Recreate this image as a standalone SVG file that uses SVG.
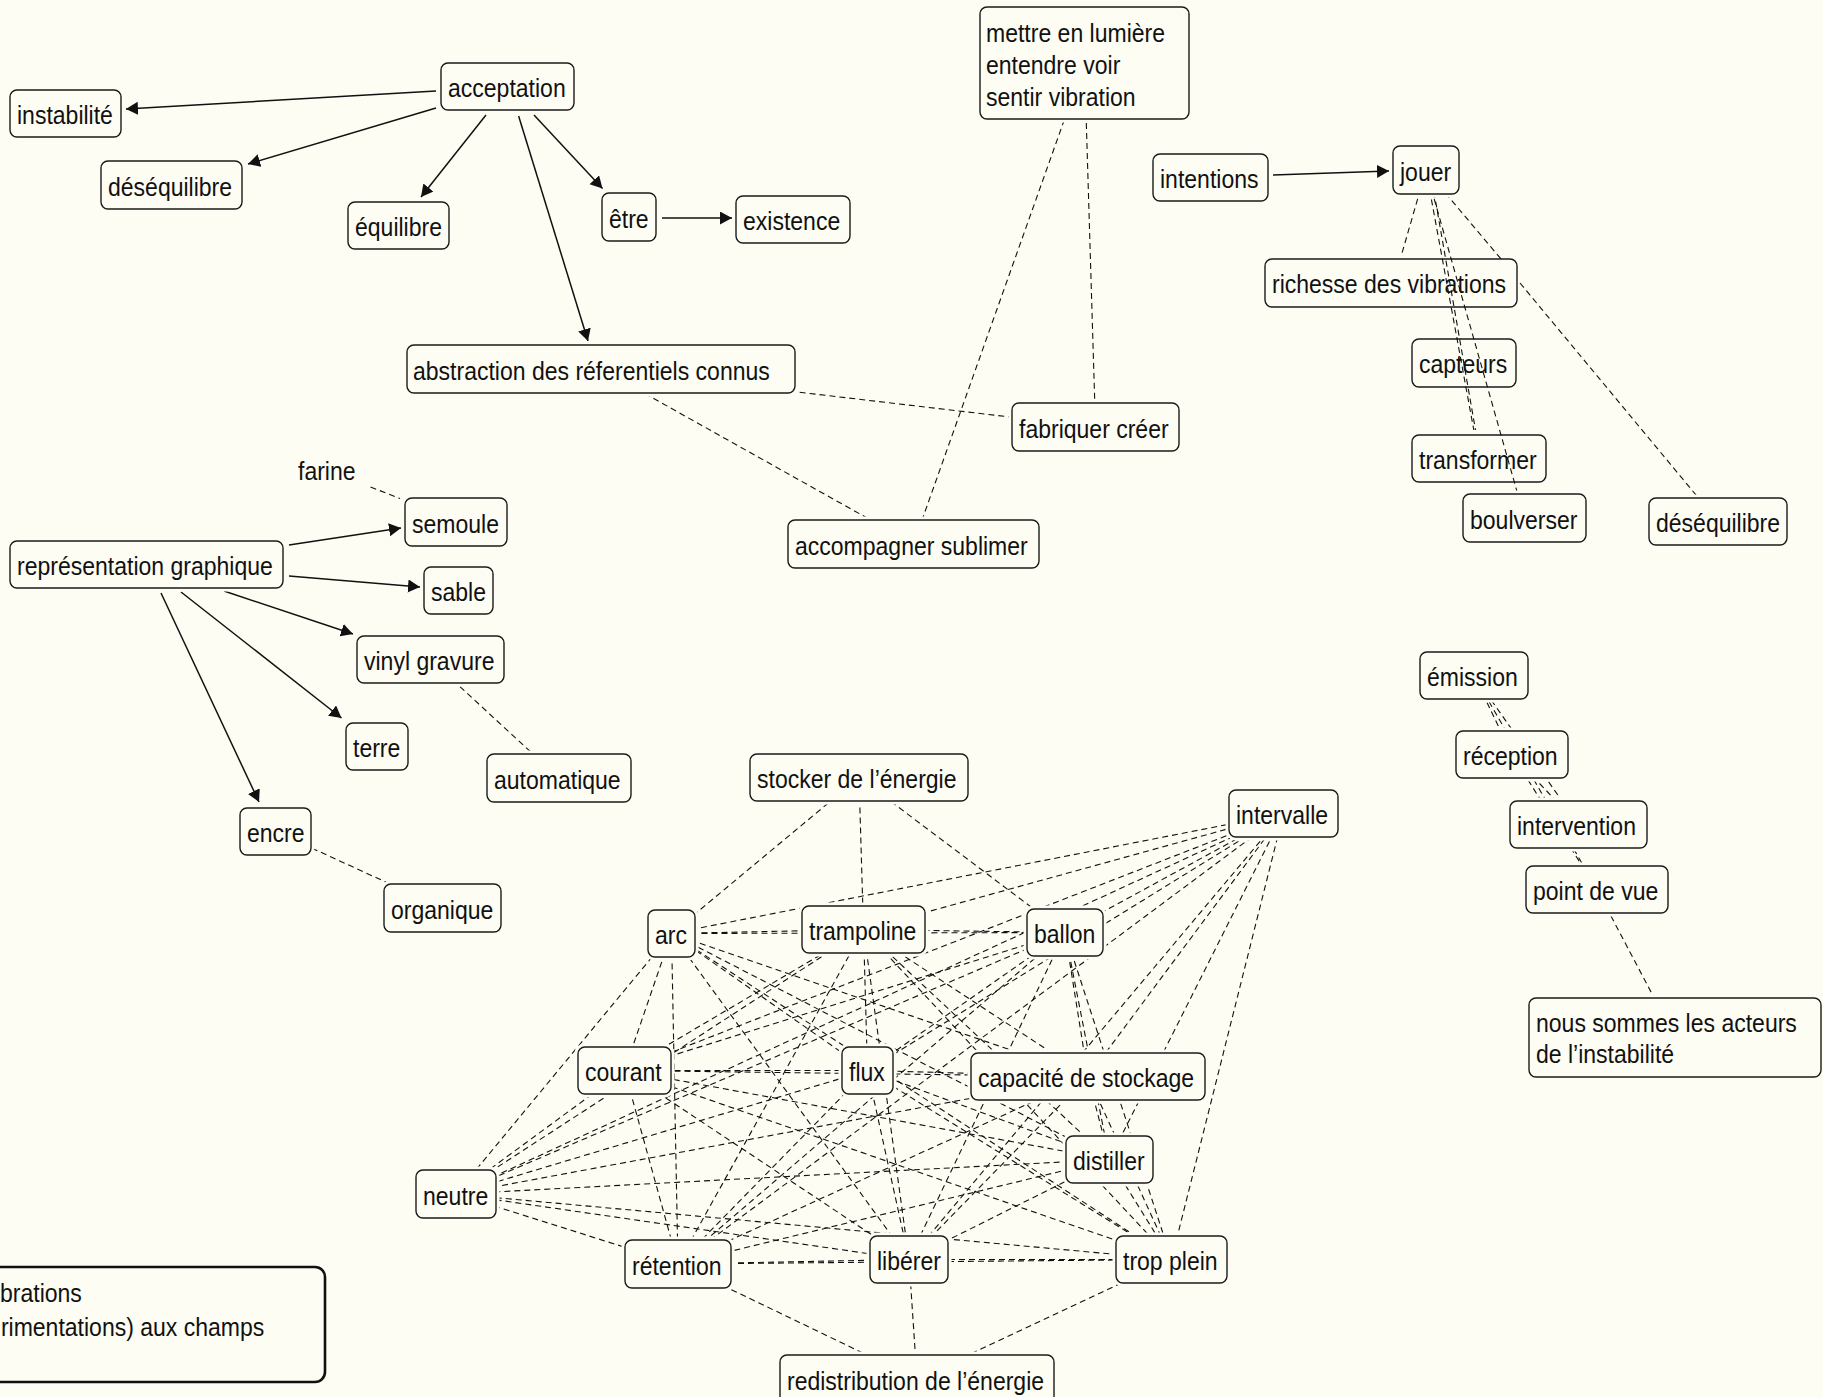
<svg xmlns="http://www.w3.org/2000/svg" width="1823" height="1397" viewBox="0 0 1823 1397">
<defs>
<style>
.bg{fill:#fdfdf4}
.h{fill:#fdfdf4}
.b{fill:#fdfdf4;stroke:#1a1a1a;stroke-width:1.4}
.t{font-family:"Liberation Sans",Arial,sans-serif;font-size:26px;fill:#111}
.d{stroke:#111;stroke-width:1.1;stroke-dasharray:6 4;fill:none}
.a{stroke:#111;stroke-width:1.5;fill:none;marker-end:url(#arr)}
</style>
<marker id="arr" markerUnits="userSpaceOnUse" markerWidth="14" markerHeight="14" refX="12" refY="6.5" orient="auto" viewBox="0 0 14 14"><path d="M0,0 L12,6.5 L0,13 z" fill="#111"/></marker>
</defs>
<rect class="bg" x="0" y="0" width="1823" height="1397"/>

<!-- nodes drawn beneath connectors -->
<g id="n-richesse"><rect class="b" x="1265" y="259" width="252" height="48" rx="7"/><text class="t" transform="translate(1272 293) scale(.885 1)">richesse des vibrations</text></g>
<g id="n-capteurs"><rect class="b" x="1412" y="339" width="104" height="48" rx="7"/><text class="t" transform="translate(1419 373) scale(.885 1)">capteurs</text></g>
<g id="n-transformer"><rect class="b" x="1412" y="435" width="134" height="47" rx="7"/><text class="t" transform="translate(1419 469) scale(.885 1)">transformer</text></g>

<g id="connectors">
<!-- arrows -->
<line class="a" x1="436" y1="91" x2="126" y2="109"/>
<line class="a" x1="436" y1="108" x2="248" y2="164"/>
<line class="a" x1="486" y1="115" x2="421" y2="197"/>
<line class="a" x1="534" y1="115" x2="602.5" y2="188.5"/>
<line class="a" x1="518.6" y1="116" x2="588" y2="341"/>
<line class="a" x1="662" y1="218" x2="732" y2="218"/>
<line class="a" x1="1273" y1="175" x2="1389" y2="171"/>
<line class="a" x1="289" y1="545" x2="401" y2="528"/>
<line class="a" x1="289" y1="576" x2="420" y2="587"/>
<line class="a" x1="224" y1="591" x2="353" y2="634"/>
<line class="a" x1="181" y1="592" x2="341.5" y2="718"/>
<line class="a" x1="161" y1="593" x2="259" y2="802"/>
<!-- top dashed -->
<line class="d" x1="1084.5" y1="63" x2="913.5" y2="544"/>
<line class="d" x1="1084.5" y1="63" x2="1095.5" y2="427"/>
<line class="d" x1="601" y1="369" x2="1095.5" y2="427"/>
<line class="d" x1="601" y1="369" x2="913.5" y2="544"/>
<line class="d" x1="1426" y1="170" x2="1401.6" y2="254.5"/>
<path class="d" d="M1426,170 L1501,259 M1520,283 L1718,521.5"/>
<line class="d" x1="1426" y1="170" x2="1473.8" y2="430"/>
<line class="d" x1="1430.5" y1="172" x2="1475.5" y2="430"/>
<line class="d" x1="1426" y1="170" x2="1524.5" y2="518"/>
<!-- left dashed -->
<line class="d" x1="370.5" y1="487" x2="400" y2="498.5"/>
<line class="d" x1="430.5" y1="659.5" x2="559" y2="778"/>
<line class="d" x1="275.5" y1="831.5" x2="442.5" y2="908"/>
<!-- right chain -->
<line class="d" x1="1474" y1="675.5" x2="1512" y2="754.5"/>
<line class="d" x1="1474" y1="675.5" x2="1578.5" y2="824.5"/>
<line class="d" x1="1474" y1="675.5" x2="1597" y2="889.5"/>
<line class="d" x1="1512" y1="754.5" x2="1578.5" y2="824.5"/>
<line class="d" x1="1512" y1="754.5" x2="1597" y2="889.5"/>
<line class="d" x1="1597" y1="889.5" x2="1675" y2="1037.5"/>
<!-- cluster: stocker and redistribution -->
<line class="d" x1="859" y1="777.5" x2="671.5" y2="933.5"/>
<line class="d" x1="859" y1="777.5" x2="863.5" y2="929.5"/>
<line class="d" x1="859" y1="777.5" x2="1065" y2="932.5"/>
<line class="d" x1="917" y1="1379" x2="678" y2="1264"/>
<line class="d" x1="917" y1="1379" x2="909" y2="1259.5"/>
<line class="d" x1="917" y1="1379" x2="1171.5" y2="1259.5"/>
<!-- arc -->
<line class="d" x1="671.5" y1="933.5" x2="863.5" y2="929.5"/>
<line class="d" x1="671.5" y1="933.5" x2="1065" y2="932.5"/>
<line class="d" x1="671.5" y1="933.5" x2="624.5" y2="1070.5"/>
<line class="d" x1="671.5" y1="933.5" x2="867.5" y2="1070.5"/>
<line class="d" x1="671.5" y1="933.5" x2="1088" y2="1076.5"/>
<line class="d" x1="671.5" y1="933.5" x2="1109.5" y2="1159.5"/>
<line class="d" x1="671.5" y1="933.5" x2="456" y2="1194"/>
<line class="d" x1="671.5" y1="933.5" x2="678" y2="1264"/>
<line class="d" x1="671.5" y1="933.5" x2="909" y2="1259.5"/>
<line class="d" x1="671.5" y1="933.5" x2="1171.5" y2="1259.5"/>
<line class="d" x1="671.5" y1="933.5" x2="1283.5" y2="813.5"/>
<!-- trampoline -->
<line class="d" x1="863.5" y1="929.5" x2="1065" y2="932.5"/>
<line class="d" x1="863.5" y1="929.5" x2="624.5" y2="1070.5"/>
<line class="d" x1="863.5" y1="929.5" x2="867.5" y2="1070.5"/>
<line class="d" x1="863.5" y1="929.5" x2="1088" y2="1076.5"/>
<line class="d" x1="863.5" y1="929.5" x2="1109.5" y2="1159.5"/>
<line class="d" x1="863.5" y1="929.5" x2="456" y2="1194"/>
<line class="d" x1="863.5" y1="929.5" x2="678" y2="1264"/>
<line class="d" x1="863.5" y1="929.5" x2="909" y2="1259.5"/>
<line class="d" x1="863.5" y1="929.5" x2="1171.5" y2="1259.5"/>
<line class="d" x1="863.5" y1="929.5" x2="1283.5" y2="813.5"/>
<!-- ballon -->
<line class="d" x1="1065" y1="932.5" x2="624.5" y2="1070.5"/>
<line class="d" x1="1065" y1="932.5" x2="867.5" y2="1070.5"/>
<line class="d" x1="1065" y1="932.5" x2="1088" y2="1076.5"/>
<line class="d" x1="1065" y1="932.5" x2="1109.5" y2="1159.5"/>
<line class="d" x1="1065" y1="932.5" x2="456" y2="1194"/>
<line class="d" x1="1065" y1="932.5" x2="678" y2="1264"/>
<line class="d" x1="1065" y1="932.5" x2="909" y2="1259.5"/>
<line class="d" x1="1065" y1="932.5" x2="1171.5" y2="1259.5"/>
<line class="d" x1="1065" y1="932.5" x2="1283.5" y2="813.5"/>
<!-- courant -->
<line class="d" x1="624.5" y1="1070.5" x2="867.5" y2="1070.5"/>
<line class="d" x1="624.5" y1="1070.5" x2="1088" y2="1076.5"/>
<line class="d" x1="624.5" y1="1070.5" x2="1109.5" y2="1159.5"/>
<line class="d" x1="624.5" y1="1070.5" x2="456" y2="1194"/>
<line class="d" x1="624.5" y1="1070.5" x2="678" y2="1264"/>
<line class="d" x1="624.5" y1="1070.5" x2="909" y2="1259.5"/>
<line class="d" x1="624.5" y1="1070.5" x2="1171.5" y2="1259.5"/>
<line class="d" x1="624.5" y1="1070.5" x2="1283.5" y2="813.5"/>
<!-- flux -->
<line class="d" x1="867.5" y1="1070.5" x2="1088" y2="1076.5"/>
<line class="d" x1="867.5" y1="1070.5" x2="1109.5" y2="1159.5"/>
<line class="d" x1="867.5" y1="1070.5" x2="456" y2="1194"/>
<line class="d" x1="867.5" y1="1070.5" x2="678" y2="1264"/>
<line class="d" x1="867.5" y1="1070.5" x2="909" y2="1259.5"/>
<line class="d" x1="867.5" y1="1070.5" x2="1171.5" y2="1259.5"/>
<line class="d" x1="867.5" y1="1070.5" x2="1283.5" y2="813.5"/>
<!-- capacite -->
<line class="d" x1="1088" y1="1076.5" x2="1109.5" y2="1159.5"/>
<line class="d" x1="1088" y1="1076.5" x2="456" y2="1194"/>
<line class="d" x1="1088" y1="1076.5" x2="678" y2="1264"/>
<line class="d" x1="1088" y1="1076.5" x2="909" y2="1259.5"/>
<line class="d" x1="1088" y1="1076.5" x2="1171.5" y2="1259.5"/>
<line class="d" x1="1088" y1="1076.5" x2="1283.5" y2="813.5"/>
<!-- distiller -->
<line class="d" x1="1109.5" y1="1159.5" x2="456" y2="1194"/>
<line class="d" x1="1109.5" y1="1159.5" x2="678" y2="1264"/>
<line class="d" x1="1109.5" y1="1159.5" x2="909" y2="1259.5"/>
<line class="d" x1="1109.5" y1="1159.5" x2="1171.5" y2="1259.5"/>
<line class="d" x1="1109.5" y1="1159.5" x2="1283.5" y2="813.5"/>
<!-- neutre -->
<line class="d" x1="456" y1="1194" x2="678" y2="1264"/>
<line class="d" x1="456" y1="1194" x2="909" y2="1259.5"/>
<line class="d" x1="456" y1="1194" x2="1171.5" y2="1259.5"/>
<line class="d" x1="456" y1="1194" x2="1283.5" y2="813.5"/>
<!-- retention, liberer, trop plein -->
<line class="d" x1="678" y1="1264" x2="909" y2="1259.5"/>
<line class="d" x1="678" y1="1264" x2="1171.5" y2="1259.5"/>
<line class="d" x1="678" y1="1264" x2="1283.5" y2="813.5"/>
<line class="d" x1="909" y1="1259.5" x2="1171.5" y2="1259.5"/>
<line class="d" x1="909" y1="1259.5" x2="1283.5" y2="813.5"/>
<line class="d" x1="1171.5" y1="1259.5" x2="1283.5" y2="813.5"/>
</g>

<!-- nodes drawn above connectors -->
<g id="n-acceptation"><rect class="h" x="437.5" y="59.5" width="140" height="54" rx="10"/><rect class="b" x="441" y="63" width="133" height="47" rx="7"/><text class="t" transform="translate(448 97) scale(.885 1)">acceptation</text></g>
<g id="n-instabilite"><rect class="h" x="6.5" y="86.5" width="118" height="54" rx="10"/><rect class="b" x="10" y="90" width="111" height="47" rx="7"/><text class="t" transform="translate(17 124) scale(.885 1)">instabilité</text></g>
<g id="n-desequilibre1"><rect class="h" x="97.5" y="157.5" width="148" height="55" rx="10"/><rect class="b" x="101" y="161" width="141" height="48" rx="7"/><text class="t" transform="translate(108 195.5) scale(.885 1)">déséquilibre</text></g>
<g id="n-equilibre"><rect class="h" x="344.5" y="198.5" width="108" height="54" rx="10"/><rect class="b" x="348" y="202" width="101" height="47" rx="7"/><text class="t" transform="translate(355 236) scale(.885 1)">équilibre</text></g>
<g id="n-etre"><rect class="h" x="598.5" y="189.5" width="61" height="55" rx="10"/><rect class="b" x="602" y="193" width="54" height="48" rx="7"/><text class="t" transform="translate(609 227.5) scale(.885 1)">être</text></g>
<g id="n-existence"><rect class="h" x="732.5" y="192.5" width="121" height="54" rx="10"/><rect class="b" x="736" y="196" width="114" height="47" rx="7"/><text class="t" transform="translate(743 230) scale(.885 1)">existence</text></g>
<g id="n-abstraction"><rect class="h" x="403.5" y="341.5" width="395" height="55" rx="10"/><rect class="b" x="407" y="345" width="388" height="48" rx="7"/><text class="t" transform="translate(413 379.5) scale(.885 1)">abstraction des réferentiels connus</text></g>
<g id="n-mettre"><rect class="h" x="976.5" y="3.5" width="216" height="119" rx="10"/><rect class="b" x="980" y="7" width="209" height="112" rx="7"/><text class="t" transform="translate(986 41.5) scale(.885 1)"><tspan x="0" y="0">mettre en lumière</tspan><tspan x="0" y="32.5">entendre voir</tspan><tspan x="0" y="65">sentir vibration</tspan></text></g>
<g id="n-fabriquer"><rect class="h" x="1008.5" y="399.5" width="174" height="55" rx="10"/><rect class="b" x="1012" y="403" width="167" height="48" rx="7"/><text class="t" transform="translate(1019 437.5) scale(.885 1)">fabriquer créer</text></g>
<g id="n-accompagner"><rect class="h" x="784.5" y="516.5" width="258" height="55" rx="10"/><rect class="b" x="788" y="520" width="251" height="48" rx="7"/><text class="t" transform="translate(795 554.5) scale(.885 1)">accompagner sublimer</text></g>
<g id="n-intentions"><rect class="h" x="1149.5" y="150.5" width="122" height="54" rx="10"/><rect class="b" x="1153" y="154" width="115" height="47" rx="7"/><text class="t" transform="translate(1160 188) scale(.885 1)">intentions</text></g>
<g id="n-jouer"><rect class="h" x="1389.5" y="142.5" width="73" height="55" rx="10"/><rect class="b" x="1393" y="146" width="66" height="48" rx="7"/><text class="t" transform="translate(1400 180.5) scale(.885 1)">jouer</text></g>
<g id="n-boulverser"><rect class="h" x="1459.5" y="490.5" width="130" height="55" rx="10"/><rect class="b" x="1463" y="494" width="123" height="48" rx="7"/><text class="t" transform="translate(1470 528.5) scale(.885 1)">boulverser</text></g>
<g id="n-desequilibre2"><rect class="h" x="1645.5" y="494.5" width="145" height="54" rx="10"/><rect class="b" x="1649" y="498" width="138" height="47" rx="7"/><text class="t" transform="translate(1656 532) scale(.885 1)">déséquilibre</text></g>

<g id="n-farine"><text class="t" transform="translate(298 480) scale(.885 1)">farine</text></g>
<g id="n-semoule"><rect class="h" x="401.5" y="494.5" width="109" height="55" rx="10"/><rect class="b" x="405" y="498" width="102" height="48" rx="7"/><text class="t" transform="translate(412 532.5) scale(.885 1)">semoule</text></g>
<g id="n-representation"><rect class="h" x="6.5" y="537.5" width="280" height="54" rx="10"/><rect class="b" x="10" y="541" width="273" height="47" rx="7"/><text class="t" transform="translate(17 575) scale(.885 1)">représentation graphique</text></g>
<g id="n-sable"><rect class="h" x="420.5" y="563.5" width="76" height="54" rx="10"/><rect class="b" x="424" y="567" width="69" height="47" rx="7"/><text class="t" transform="translate(431 601) scale(.885 1)">sable</text></g>
<g id="n-vinyl"><rect class="h" x="353.5" y="632.5" width="154" height="54" rx="10"/><rect class="b" x="357" y="636" width="147" height="47" rx="7"/><text class="t" transform="translate(364 670) scale(.885 1)">vinyl gravure</text></g>
<g id="n-terre"><rect class="h" x="342.5" y="719.5" width="69" height="54" rx="10"/><rect class="b" x="346" y="723" width="62" height="47" rx="7"/><text class="t" transform="translate(353 757) scale(.885 1)">terre</text></g>
<g id="n-automatique"><rect class="h" x="483.5" y="750.5" width="151" height="55" rx="10"/><rect class="b" x="487" y="754" width="144" height="48" rx="7"/><text class="t" transform="translate(494 788.5) scale(.885 1)">automatique</text></g>
<g id="n-encre"><rect class="h" x="236.5" y="804.5" width="78" height="54" rx="10"/><rect class="b" x="240" y="808" width="71" height="47" rx="7"/><text class="t" transform="translate(247 842) scale(.885 1)">encre</text></g>
<g id="n-organique"><rect class="h" x="380.5" y="880.5" width="124" height="55" rx="10"/><rect class="b" x="384" y="884" width="117" height="48" rx="7"/><text class="t" transform="translate(391 918.5) scale(.885 1)">organique</text></g>

<g id="n-stocker"><rect class="h" x="746.5" y="750.5" width="225" height="54" rx="10"/><rect class="b" x="750" y="754" width="218" height="47" rx="7"/><text class="t" transform="translate(757 788) scale(.885 1)">stocker de l’énergie</text></g>
<g id="n-intervalle"><rect class="h" x="1225.5" y="786.5" width="116" height="54" rx="10"/><rect class="b" x="1229" y="790" width="109" height="47" rx="7"/><text class="t" transform="translate(1236 824) scale(.885 1)">intervalle</text></g>
<g id="n-arc"><rect class="h" x="644.5" y="906.5" width="54" height="54" rx="10"/><rect class="b" x="648" y="910" width="47" height="47" rx="7"/><text class="t" transform="translate(655 944) scale(.885 1)">arc</text></g>
<g id="n-trampoline"><rect class="h" x="798.5" y="902.5" width="130" height="54" rx="10"/><rect class="b" x="802" y="906" width="123" height="47" rx="7"/><text class="t" transform="translate(809 940) scale(.885 1)">trampoline</text></g>
<g id="n-ballon"><rect class="h" x="1023.5" y="905.5" width="83" height="54" rx="10"/><rect class="b" x="1027" y="909" width="76" height="47" rx="7"/><text class="t" transform="translate(1034 943) scale(.885 1)">ballon</text></g>
<g id="n-courant"><rect class="h" x="574.5" y="1043.5" width="100" height="54" rx="10"/><rect class="b" x="578" y="1047" width="93" height="47" rx="7"/><text class="t" transform="translate(585 1081) scale(.885 1)">courant</text></g>
<g id="n-flux"><rect class="h" x="838.5" y="1043.5" width="58" height="54" rx="10"/><rect class="b" x="842" y="1047" width="51" height="47" rx="7"/><text class="t" transform="translate(849 1081) scale(.885 1)">flux</text></g>
<g id="n-capacite"><rect class="h" x="967.5" y="1049.5" width="241" height="54" rx="10"/><rect class="b" x="971" y="1053" width="234" height="47" rx="7"/><text class="t" transform="translate(978 1087) scale(.885 1)">capacité de stockage</text></g>
<g id="n-distiller"><rect class="h" x="1062.5" y="1132.5" width="94" height="54" rx="10"/><rect class="b" x="1066" y="1136" width="87" height="47" rx="7"/><text class="t" transform="translate(1073 1170) scale(.885 1)">distiller</text></g>
<g id="n-neutre"><rect class="h" x="412.5" y="1166.5" width="87" height="55" rx="10"/><rect class="b" x="416" y="1170" width="80" height="48" rx="7"/><text class="t" transform="translate(423 1204.5) scale(.885 1)">neutre</text></g>
<g id="n-retention"><rect class="h" x="621.5" y="1236.5" width="113" height="55" rx="10"/><rect class="b" x="625" y="1240" width="106" height="48" rx="7"/><text class="t" transform="translate(632 1274.5) scale(.885 1)">rétention</text></g>
<g id="n-liberer"><rect class="h" x="866.5" y="1232.5" width="85" height="54" rx="10"/><rect class="b" x="870" y="1236" width="78" height="47" rx="7"/><text class="t" transform="translate(877 1270) scale(.885 1)">libérer</text></g>
<g id="n-tropplein"><rect class="h" x="1112.5" y="1232.5" width="118" height="54" rx="10"/><rect class="b" x="1116" y="1236" width="111" height="47" rx="7"/><text class="t" transform="translate(1123 1270) scale(.885 1)">trop plein</text></g>
<g id="n-redistribution"><rect class="h" x="776.5" y="1351.5" width="281" height="55" rx="10"/><rect class="b" x="780" y="1355" width="274" height="48" rx="7"/><text class="t" transform="translate(787 1389.5) scale(.885 1)">redistribution de l’énergie</text></g>

<g id="n-emission"><rect class="h" x="1416.5" y="648.5" width="115" height="54" rx="10"/><rect class="b" x="1420" y="652" width="108" height="47" rx="7"/><text class="t" transform="translate(1427 686) scale(.885 1)">émission</text></g>
<g id="n-reception"><rect class="h" x="1452.5" y="727.5" width="119" height="54" rx="10"/><rect class="b" x="1456" y="731" width="112" height="47" rx="7"/><text class="t" transform="translate(1463 765) scale(.885 1)">réception</text></g>
<g id="n-intervention"><rect class="h" x="1506.5" y="797.5" width="144" height="54" rx="10"/><rect class="b" x="1510" y="801" width="137" height="47" rx="7"/><text class="t" transform="translate(1517 835) scale(.885 1)">intervention</text></g>
<g id="n-pointdevue"><rect class="h" x="1522.5" y="862.5" width="149" height="54" rx="10"/><rect class="b" x="1526" y="866" width="142" height="47" rx="7"/><text class="t" transform="translate(1533 900) scale(.885 1)">point de vue</text></g>
<g id="n-nous"><rect class="h" x="1525.5" y="994.5" width="299" height="86" rx="10"/><rect class="b" x="1529" y="998" width="292" height="79" rx="7"/><text class="t" transform="translate(1536 1032) scale(.885 1)"><tspan x="0" y="0">nous sommes les acteurs</tspan><tspan x="0" y="31.5">de l’instabilité</tspan></text></g>

<g id="n-note"><rect x="-12" y="1267" width="337" height="115" rx="10" fill="#fdfdf4" stroke="#111" stroke-width="2.6"/><text class="t" transform="translate(0 1302) scale(.885 1)"><tspan x="0" y="0">brations</tspan><tspan x="1" y="34">rimentations) aux champs</tspan></text></g>
</svg>
